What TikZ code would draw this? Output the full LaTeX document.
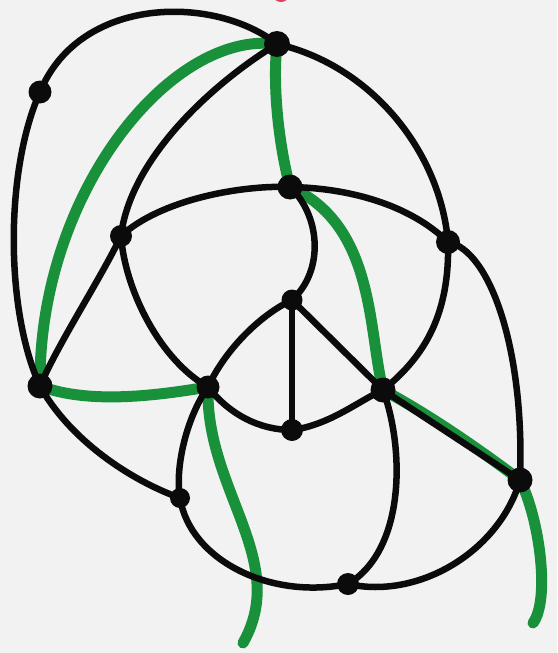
\documentclass[tikz,border=0pt]{standalone}
\usepackage{xcolor}
\usepackage{tikz}
\definecolor{paperLight}{HTML}{F2F2F2}
\definecolor{inkBlack}{HTML}{0B0B0B}
\definecolor{pathGreen}{HTML}{18913A}
\definecolor{markRed}{HTML}{E2405A}

\begin{document}
\begin{tikzpicture}[x=1pt,y=-1pt]

		\tikzset{
            edge/.style={
                draw=inkBlack,
                line width=6.5pt,
                line cap=round,
                line join=round
            },
            route/.style={
                draw=pathGreen,
                line width=11pt,
                line cap=round,
                line join=round
            },
            dot/.style={
                circle,
                fill=inkBlack,
                inner sep=0pt,
                minimum size=#1
            }
        }

        % paper
        \fill[paperLight] (0,0) rectangle (557,653);
        \useasboundingbox (0,0) rectangle (557,653);
        \fill[markRed] (281,-5) ellipse [x radius=8, y radius=7];

        % vertices
        \coordinate (apex) at (277,44);
        \coordinate (rim) at (40,92);
        \coordinate (hub) at (290,187);
        \coordinate (west) at (121,236);
        \coordinate (east) at (448,242);
        \coordinate (core) at (292,300);
        \coordinate (southwest) at (40,386);
        \coordinate (left) at (208,387);
        \coordinate (right) at (383,390);
        \coordinate (base) at (292,430);
        \coordinate (southeast) at (520,480);
        \coordinate (knee) at (180,498);
        \coordinate (bottom) at (348,584);
        \coordinate (tailLeft) at (243,643);
        \coordinate (tailRight) at (533,623);

        % green route
        \draw[route] (apex) .. controls (170,30) and (38,195) .. (southwest);
        \draw[route] (apex) .. controls (272,90) and (280,150) .. (hub);
        \draw[route] (hub) .. controls (375,225) and (368,330) .. (right);
        \draw[route] (southwest) .. controls (90,405) and (160,395) .. (left);
        \draw[route] (left) .. controls (205,490) and (290,560) .. (tailLeft);
        \draw[route] (right) .. controls (430,415) and (480,450) .. (southeast);
        \draw[route] (southeast) .. controls (540,520) and (550,600) .. (tailRight);

        % black edges
        \draw[edge] (apex) .. controls (215,-5) and (80,-5) .. (rim);
        \draw[edge] (rim) .. controls (5,170) and (5,310) .. (southwest);
        \draw[edge] (apex) .. controls (210,85) and (130,160) .. (west);
        \draw[edge] (apex) .. controls (370,65) and (440,150) .. (east);
        \draw[edge] (west) .. controls (160,200) and (240,185) .. (hub);
        \draw[edge] (hub) .. controls (350,188) and (410,205) .. (east);
        \draw[edge] (hub) .. controls (320,215) and (325,270) .. (core);
        \draw[edge] (west) .. controls (100,280) and (60,340) .. (southwest);
        \draw[edge] (west) .. controls (125,290) and (160,360) .. (left);
        \draw[edge] (east) .. controls (450,320) and (420,360) .. (right);
        \draw[edge] (east) .. controls (490,250) and (525,350) .. (southeast);
        \draw[edge] (core) -- (base);
        \draw[edge] (core) .. controls (260,315) and (225,350) .. (left);
        \draw[edge] (core) -- (right);
        \draw[edge] (left) .. controls (230,415) and (260,430) .. (base);
        \draw[edge] (base) .. controls (330,425) and (360,400) .. (right);
        \draw[edge] (southwest) .. controls (70,440) and (130,480) .. (knee);
        \draw[edge] (left) .. controls (185,420) and (175,470) .. (knee);
        \draw[edge] (knee) .. controls (190,560) and (270,600) .. (bottom);
        \draw[edge] (right) .. controls (405,450) and (405,550) .. (bottom);
        \draw[edge] (bottom) .. controls (420,600) and (500,550) .. (southeast);
        \draw[edge] (right) -- (southeast);

        % dots
        \foreach \v/\s in {apex/26, rim/23, hub/25, west/22, east/24, core/21,
            southwest/25, left/23, right/25, base/22, southeast/25, knee/20, bottom/22}
            \node[dot=\s pt] (dot-\v) at (\v) {};

        \end{tikzpicture}
\end{document}
